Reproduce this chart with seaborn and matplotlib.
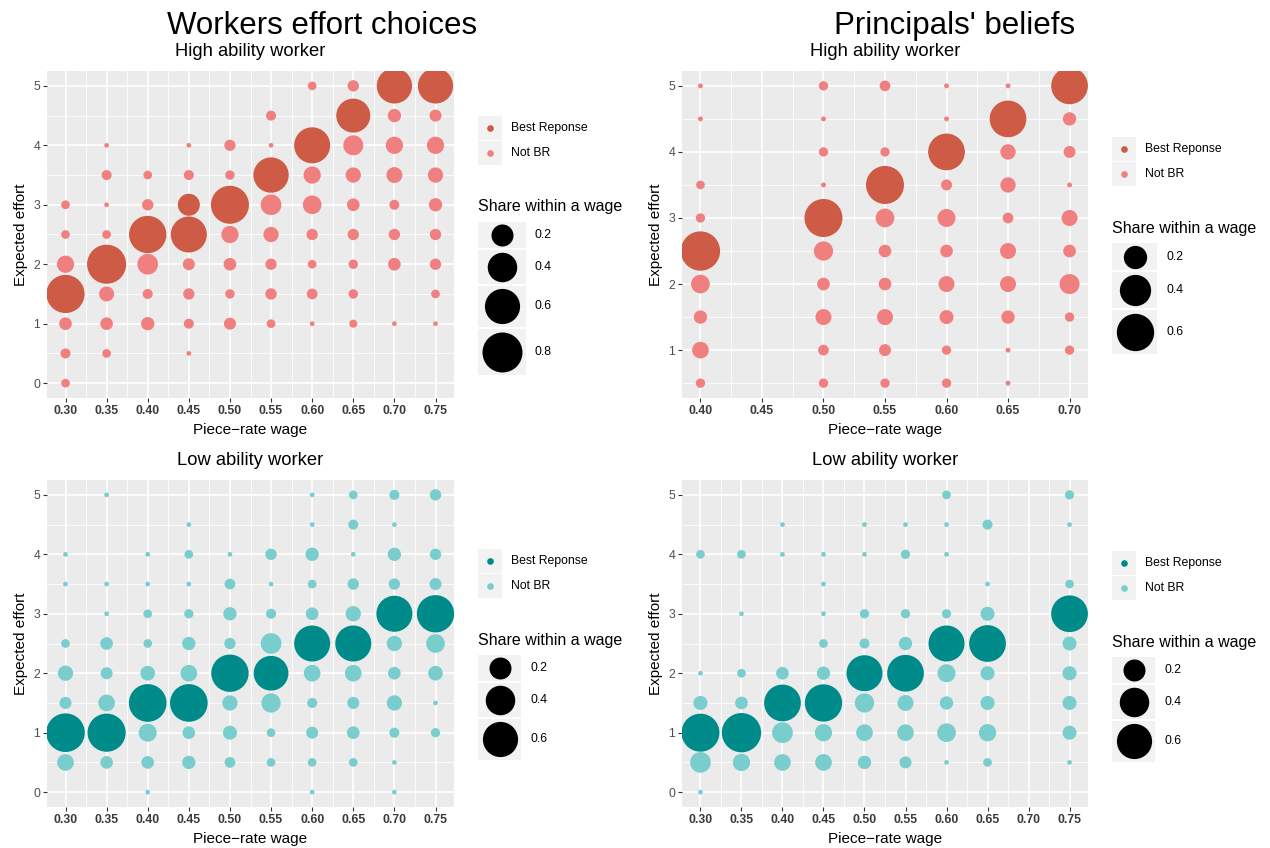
import numpy as np
import pandas as pd
import matplotlib
matplotlib.use("Agg")
import matplotlib.pyplot as plt
from matplotlib.patches import Rectangle
import seaborn as sns

W, H = 1270, 848

# ---------------- data ----------------
# each panel: wages, efforts per wage, share per (wage, effort), best-response efforts per wage

# Workers effort choices - high ability
hw_wages = [0.30, 0.35, 0.40, 0.45, 0.50, 0.55, 0.60, 0.65, 0.70, 0.75]
hw_effort = [
    [0, 0.5, 1, 1.5, 2, 2.5, 3],
    [0.5, 1, 1.5, 2, 2.5, 3, 3.5, 4],
    [1, 1.5, 2, 2.5, 3, 3.5],
    [0.5, 1, 1.5, 2, 2.5, 3, 3.5, 4],
    [1, 1.5, 2, 2.5, 3, 3.5, 4],
    [1, 1.5, 2, 2.5, 3, 3.5, 4, 4.5],
    [1, 1.5, 2, 2.5, 3, 3.5, 4, 5],
    [1, 1.5, 2, 2.5, 3, 3.5, 4, 4.5, 5],
    [1, 2, 2.5, 3, 3.5, 4, 4.5, 5],
    [1, 1.5, 2, 2.5, 3, 3.5, 4, 4.5, 5],
]
hw_share = [
    [0.02, 0.028, 0.05, 0.72, 0.11, 0.02, 0.02],
    [0.02, 0.05, 0.077, 0.76, 0.02, 0.01, 0.028, 0.01],
    [0.057, 0.028, 0.172, 0.685, 0.038, 0.02],
    [0.01, 0.028, 0.038, 0.044, 0.632, 0.2, 0.028, 0.01],
    [0.044, 0.024, 0.05, 0.11, 0.714, 0.024, 0.037],
    [0.02, 0.038, 0.038, 0.081, 0.172, 0.604, 0.01, 0.028],
    [0.01, 0.033, 0.02, 0.038, 0.134, 0.11, 0.632, 0.02],
    [0.017, 0.024, 0.024, 0.038, 0.05, 0.081, 0.158, 0.555, 0.038],
    [0.01, 0.05, 0.038, 0.028, 0.09, 0.11, 0.057, 0.604],
    [0.01, 0.02, 0.038, 0.038, 0.057, 0.081, 0.11, 0.044, 0.604],
]
hw_best = [[1.5], [2], [2.5], [2.5, 3], [3], [3.5], [4], [4.5], [5], [5]]

# Principals' beliefs - high ability
hp_wages = [0.40, 0.50, 0.55, 0.60, 0.65, 0.70]
hp_effort = [
    [0.5, 1, 1.5, 2, 2.5, 3, 3.5, 4.5, 5],
    [0.5, 1, 1.5, 2, 2.5, 3, 3.5, 4, 4.5, 5],
    [0.5, 1, 1.5, 2, 2.5, 3, 3.5, 4, 5],
    [0.5, 1, 1.5, 2, 2.5, 3, 3.5, 4, 4.5, 5],
    [0.5, 1, 1.5, 2, 2.5, 3, 3.5, 4, 4.5, 5],
    [1, 1.5, 2, 2.5, 3, 3.5, 4, 4.5, 5],
]
hp_share = [
    [0.021, 0.088, 0.05, 0.117, 0.674, 0.021, 0.018, 0.01, 0.01],
    [0.021, 0.029, 0.079, 0.044, 0.126, 0.625, 0.01, 0.021, 0.01, 0.021],
    [0.021, 0.038, 0.079, 0.044, 0.044, 0.117, 0.625, 0.021, 0.029],
    [0.021, 0.021, 0.056, 0.079, 0.044, 0.106, 0.031, 0.578, 0.01, 0.01],
    [0.01, 0.01, 0.05, 0.079, 0.079, 0.029, 0.071, 0.071, 0.578, 0.01],
    [0.021, 0.021, 0.138, 0.044, 0.079, 0.01, 0.038, 0.05, 0.578],
]
hp_best = [[2.5], [3], [3.5], [4], [4.5], [5]]

# Workers effort choices - low ability
lw_wages = [0.30, 0.35, 0.40, 0.45, 0.50, 0.55, 0.60, 0.65, 0.70, 0.75]
lw_effort = [
    [0.5, 1, 1.5, 2, 2.5, 3.5, 4],
    [0.5, 1, 1.5, 2, 2.5, 3, 3.5, 5],
    [0, 0.5, 1, 1.5, 2, 2.5, 3, 3.5, 4],
    [0.5, 1, 1.5, 2, 2.5, 3, 3.5, 4, 4.5],
    [0.5, 1, 1.5, 2, 2.5, 3, 3.5, 4],
    [0.5, 1, 1.5, 2, 2.5, 3, 3.5, 4],
    [0, 0.5, 1, 1.5, 2, 2.5, 3, 3.5, 4, 4.5, 5],
    [0.5, 1, 1.5, 2, 2.5, 3, 3.5, 4, 4.5, 5],
    [0, 0.5, 1, 1.5, 2, 2.5, 3, 3.5, 4, 4.5, 5],
    [1, 1.5, 2, 2.5, 3, 3.5, 4, 5],
]
lw_share = [
    [0.101, 0.74, 0.044, 0.081, 0.02, 0.01, 0.01],
    [0.05, 0.72, 0.101, 0.044, 0.05, 0.01, 0.01, 0.01],
    [0.01, 0.05, 0.122, 0.70, 0.073, 0.02, 0.02, 0.01, 0.01],
    [0.057, 0.05, 0.70, 0.101, 0.057, 0.023, 0.01, 0.02, 0.01],
    [0.033, 0.065, 0.081, 0.685, 0.038, 0.057, 0.033, 0.01],
    [0.02, 0.02, 0.145, 0.581, 0.172, 0.028, 0.01, 0.038],
    [0.01, 0.02, 0.044, 0.028, 0.101, 0.632, 0.05, 0.02, 0.057, 0.01, 0.01],
    [0.02, 0.05, 0.044, 0.101, 0.632, 0.081, 0.038, 0.01, 0.028, 0.02],
    [0.01, 0.01, 0.028, 0.081, 0.05, 0.081, 0.632, 0.038, 0.057, 0.01, 0.028],
    [0.023, 0.01, 0.073, 0.134, 0.685, 0.044, 0.038, 0.038],
]
lw_best = [[1], [1], [1.5], [1.5], [2], [2], [2.5], [2.5], [3], [3]]

# Principals' beliefs - low ability
lp_wages = [0.30, 0.35, 0.40, 0.45, 0.50, 0.55, 0.60, 0.65, 0.75]
lp_effort = [
    [0, 0.5, 1, 1.5, 2, 4],
    [0.5, 1, 1.5, 2, 3, 4],
    [0.5, 1, 1.5, 2, 4, 4.5],
    [0.5, 1, 1.5, 2, 2.5, 3, 3.5, 4],
    [0.5, 1, 1.5, 2, 2.5, 3, 4, 4.5],
    [0.5, 1, 1.5, 2, 2.5, 3, 4, 4.5],
    [0.5, 1, 1.5, 2, 2.5, 3, 4, 4.5, 5],
    [0.5, 1, 1.5, 2, 2.5, 3, 3.5, 4.5],
    [0.5, 1, 1.5, 2, 2.5, 3, 3.5, 4.5, 5],
]
lp_share = [
    [0.01, 0.172, 0.714, 0.065, 0.01, 0.02],
    [0.11, 0.77, 0.05, 0.02, 0.01, 0.02],
    [0.101, 0.172, 0.66, 0.05, 0.01, 0.01],
    [0.101, 0.11, 0.685, 0.057, 0.02, 0.01, 0.01, 0.01],
    [0.057, 0.101, 0.145, 0.632, 0.028, 0.023, 0.01, 0.01],
    [0.044, 0.101, 0.091, 0.66, 0.057, 0.023, 0.023, 0.01],
    [0.01, 0.134, 0.057, 0.122, 0.632, 0.023, 0.01, 0.01, 0.02],
    [0.02, 0.11, 0.065, 0.065, 0.66, 0.065, 0.01, 0.028],
    [0.01, 0.065, 0.065, 0.065, 0.065, 0.66, 0.02, 0.01, 0.023],
]
lp_best = [[1], [1], [1.5], [1.5], [2], [2], [2.5], [2.5], [3]]

legend_labels = ["Best Reponse", "Not BR"]
high_colors = ["#CD5B45", "#F08080"]
low_colors = ["#008B8B", "#79CDCD"]


def build(wages, efforts, shares, best):
    rows = []
    for w, es, ss, b in zip(wages, efforts, shares, best):
        for e, s in zip(es, ss):
            rows.append({"wage": w, "effort": e, "share": s,
                         "kind": legend_labels[0] if e in b else legend_labels[1]})
    return pd.DataFrame(rows)


# size scale (ggplot-like: diameter grows with sqrt of share), in pixels
def diam(v, r1, c):
    return r1 + c * np.sqrt(max(v - 0.01, 0))


def area(v, r1, c):
    return (diam(v, r1, c) * 0.72) ** 2   # px -> pt at 100 dpi


sns.set_theme(style="darkgrid")
plt.rcParams["font.family"] = ["Liberation Sans", "DejaVu Sans"]
plt.rcParams["text.color"] = "black"

fig = plt.figure(figsize=(W / 100, H / 100), dpi=100)
lax = fig.add_axes([0, 0, 1, 1])
lax.set_xlim(0, W)
lax.set_ylim(H, 0)
lax.axis("off")


def panel(rect, df, colors, scale):
    x0, y0, x1, y1 = rect
    ax = fig.add_axes([x0 / W, 1 - y1 / H, (x1 - x0) / W, (y1 - y0) / H])
    pal = dict(zip(legend_labels, colors))
    sizes = {v: area(v, *scale) for v in df["share"].unique()}
    sns.scatterplot(data=df, x="wage", y="effort", hue="kind", palette=pal,
                    size="share", sizes=sizes, linewidth=0, alpha=1,
                    legend=False, ax=ax)
    xlo, xhi = df["wage"].min(), df["wage"].max()
    ylo, yhi = df["effort"].min(), df["effort"].max()
    ax.set_xlim(xlo - 0.05 * (xhi - xlo), xhi + 0.05 * (xhi - xlo))
    ax.set_ylim(ylo - 0.05 * (yhi - ylo), yhi + 0.05 * (yhi - ylo))
    xt = np.round(np.arange(xlo, xhi + 0.001, 0.05), 2)
    yt = np.arange(np.ceil(ylo), yhi + 0.001, 1)
    ax.set_xticks(xt)
    ax.set_xticklabels([f"{v:.2f}" for v in xt], fontweight="bold", color="#3A3A3A", fontsize=8.8)
    ax.set_yticks(yt)
    ax.set_yticklabels([f"{v:g}" for v in yt], color="#4D4D4D", fontsize=8.8)
    xm = np.concatenate([xt - 0.025, [xt[-1] + 0.025]])
    ym = np.concatenate([yt - 0.5, [yt[-1] + 0.5]])
    xlim, ylim = ax.get_xlim(), ax.get_ylim()
    ax.set_xticks(xm[(xm > xlim[0]) & (xm < xlim[1])], minor=True)
    ax.set_yticks(ym[(ym > ylim[0]) & (ym < ylim[1])], minor=True)
    ax.set_facecolor("#EBEBEB")
    ax.grid(which="major", color="white", linewidth=1.2)
    ax.grid(which="minor", color="white", linewidth=0.6)
    ax.set_axisbelow(True)
    for s in ax.spines.values():
        s.set_visible(False)
    ax.tick_params(which="major", length=2.75, width=0.8, color="#333333", pad=2.2,
                   bottom=True, left=True)
    ax.tick_params(which="minor", length=0)
    ax.set_xlabel("")
    ax.set_ylabel("")
    fig.text((x0 + x1) / 2 / W, 1 - (y1 + 32) / H, "Piece\u2212rate wage",
             ha="center", va="center", fontsize=11)
    fig.text((x0 - 26) / W, 1 - (y0 + y1) / 2 / H, "Expected effort",
             ha="center", va="center", rotation=90, fontsize=11)
    return ax


def legend(x0, y0, colors, scale, breaks):
    key = 24
    for i, (lab, col) in enumerate(zip(legend_labels, colors)):
        top = y0 + i * (key + 1)
        lax.add_patch(Rectangle((x0, top), key, key, fc="#F2F2F2", ec="none"))
        lax.scatter([x0 + key / 2], [top + key / 2], s=23, color=col, linewidth=0)
        lax.text(x0 + 33, top + key / 2, lab, va="center", ha="left", fontsize=8.8)
    ty = y0 + 2 * key + 1 + 42
    lax.text(x0, ty, "Share within a wage", va="center", ha="left", fontsize=11.5)
    top = ty + 15
    w = diam(breaks[-1], *scale) + 8
    for b in breaks:
        h = max(key, diam(b, *scale) * 1.16)
        lax.add_patch(Rectangle((x0, top), w, h, fc="#F2F2F2", ec="none"))
        lax.scatter([x0 + w / 2], [top + h / 2], s=area(b, *scale), color="black", linewidth=0)
        lax.text(x0 + w + 9, top + h / 2, f"{b:g}", va="center", ha="left", fontsize=8.8)
        top += h + 2


scale_a = (4.7, 39.7)
scale_b = (4.9, 42.2)

panel((47, 71, 454, 398), build(hw_wages, hw_effort, hw_share, hw_best), high_colors, scale_a)
panel((682, 71, 1088, 398), build(hp_wages, hp_effort, hp_share, hp_best), high_colors, scale_b)
panel((47, 480, 454, 807), build(lw_wages, lw_effort, lw_share, lw_best), low_colors, scale_a)
panel((682, 480, 1088, 807), build(lp_wages, lp_effort, lp_share, lp_best), low_colors, scale_a)

legend(478, 116, high_colors, scale_a, [0.2, 0.4, 0.6, 0.8])
legend(1112, 137, high_colors, scale_b, [0.2, 0.4, 0.6])
legend(478, 549, low_colors, scale_a, [0.2, 0.4, 0.6])
legend(1112, 551, low_colors, scale_a, [0.2, 0.4, 0.6])

fig.text(322 / W, 1 - 34 / H, "Workers effort choices", ha="center", va="baseline", fontsize=22.5)
fig.text(955 / W, 1 - 34 / H, "Principals' beliefs", ha="center", va="baseline", fontsize=22.5)
for xc in (250.5, 885):
    fig.text(xc / W, 1 - 56 / H, "High ability worker", ha="center", va="baseline", fontsize=13.2)
    fig.text(xc / W, 1 - 465 / H, "Low ability worker", ha="center", va="baseline", fontsize=13.2)

fig.savefig("out.png", dpi=100, facecolor="white")
